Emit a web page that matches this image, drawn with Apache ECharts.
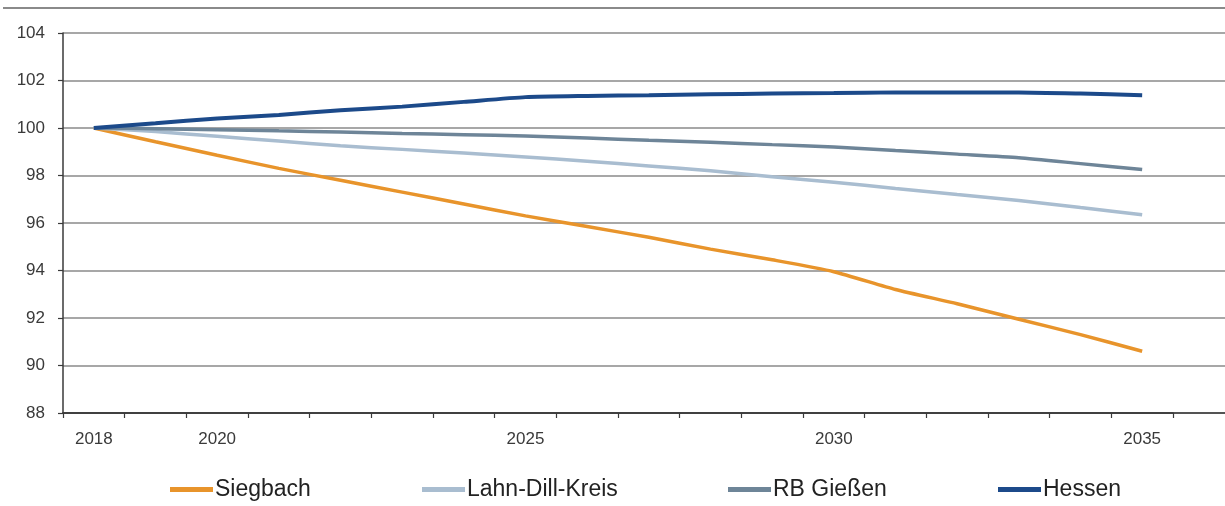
<!DOCTYPE html>
<html>
<head>
<meta charset="utf-8">
<script src="https://cdn.jsdelivr.net/npm/echarts@6/dist/echarts.min.js"></script>
<style>
html,body{margin:0;padding:0;background:#fff;}
#c{width:1225px;height:506px;}
</style>
</head>
<body>
<div id="c"></div>
<script>
const years = ['2018','2019','2020','2021','2022','2023','2024','2025','2026','2027','2028','2029','2030','2031','2032','2033','2034','2035'];
const xLabels = ['2018','2020','2025','2030','2035'];
const yTicks = [88,90,92,94,96,98,100,102,104];
const siegbach = [100,99.42,98.85,98.3,97.8,97.3,96.8,96.3,95.85,95.4,94.9,94.45,93.95,93.2,92.6,91.95,91.3,90.6];
const lahnDill = [100,99.85,99.65,99.45,99.25,99.1,98.95,98.78,98.6,98.4,98.2,97.95,97.72,97.45,97.2,96.95,96.65,96.35];
const rbGiessen = [100,99.97,99.93,99.88,99.83,99.77,99.72,99.66,99.58,99.48,99.4,99.3,99.2,99.05,98.9,98.75,98.5,98.25];
const hessen = [100,100.2,100.4,100.55,100.75,100.9,101.1,101.3,101.35,101.38,101.42,101.45,101.47,101.5,101.5,101.5,101.45,101.38];

const names = ['Siegbach','Lahn-Dill-Kreis','RB Gießen','Hessen'];
const colors = ['#E8942B','#A9BDD0','#6E8598','#1C4A8A'];
const seriesData = [siegbach, lahnDill, rbGiessen, hessen];
const legendLeft = [170, 422, 728, 998];

const font = 'Liberation Sans, Arial, sans-serif';
const chart = echarts.init(document.getElementById('c'));
chart.setOption({
  animation: false,
  backgroundColor: '#fff',
  grid: [
    {left: 63, right: 52, top: 33, bottom: 93, containLabel: false},
    {left: 63, right: 0, top: 33, bottom: 93, containLabel: false}
  ],
  xAxis: [{
    type: 'category',
    gridIndex: 0,
    data: years,
    boundaryGap: true,
    axisLine: {lineStyle: {color: '#3a3a3a', width: 1.5}},
    axisTick: {show: true, length: 5, lineStyle: {color: '#3a3a3a', width: 1.2}},
    axisLabel: {
      interval: 0,
      margin: 18,
      color: '#3a3a3a',
      fontFamily: font,
      fontSize: 17,
      formatter: v => xLabels.indexOf(v) >= 0 ? v : ''
    },
    splitLine: {show: false}
  }, {
    type: 'value',
    gridIndex: 1,
    min: 0, max: 1,
    axisLine: {show: true, onZero: false, lineStyle: {color: '#3a3a3a', width: 1.5}},
    axisTick: {show: false},
    axisLabel: {show: false},
    splitLine: {show: false}
  }],
  yAxis: [{
    type: 'value',
    gridIndex: 0,
    min: yTicks[0],
    max: yTicks[yTicks.length - 1],
    interval: 2,
    axisLine: {show: true, lineStyle: {color: '#3a3a3a', width: 1.5}},
    axisTick: {show: true, length: 5, lineStyle: {color: '#3a3a3a', width: 1.2}},
    axisLabel: {
      margin: 18,
      color: '#3a3a3a',
      fontFamily: font,
      fontSize: 17
    },
    splitLine: {show: false}
  }, {
    type: 'value',
    gridIndex: 1,
    min: yTicks[0],
    max: yTicks[yTicks.length - 1],
    interval: 2,
    axisLine: {show: false},
    axisTick: {show: false},
    axisLabel: {show: false},
    splitLine: {lineStyle: {color: '#8a8a8a', width: 1.5}}
  }],
  legend: names.map((n, i) => ({
    data: [n],
    left: legendLeft[i],
    top: 478,
    padding: 0,
    icon: 'rect',
    itemWidth: 43,
    itemHeight: 5,
    itemGap: 0,
    textStyle: {fontSize: 23, color: '#222', fontFamily: font, padding: [0,0,0,-3]}
  })),
  graphic: [{
    type: 'line',
    shape: {x1: 3, y1: 8, x2: 1225, y2: 8},
    style: {stroke: '#8a8a8a', lineWidth: 2}
  }],
  series: names.map((n, i) => ({
    name: n,
    type: 'line',
    xAxisIndex: 0,
    yAxisIndex: 0,
    data: seriesData[i],
    color: colors[i],
    showSymbol: false,
    symbol: 'none',
    smooth: 0.2,
    lineStyle: {width: i === 3 ? 4 : 3.5, color: colors[i]},
    z: 3 + i
  }))
});
</script>
</body>
</html>
